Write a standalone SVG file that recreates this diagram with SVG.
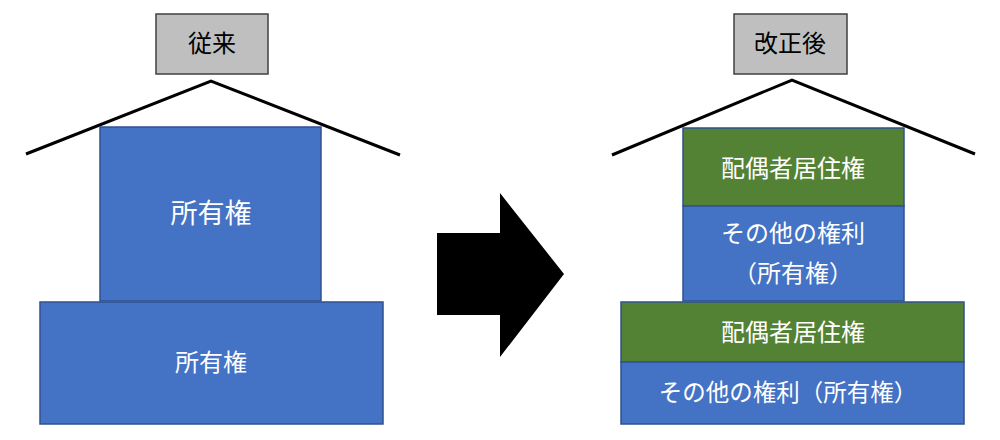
<svg xmlns="http://www.w3.org/2000/svg" width="1000" height="440" viewBox="0 0 1000 440">
<style>
.lbl{fill:#BFBFBF;stroke:#404040;stroke-width:1.5}
.blue{fill:#4472C4;stroke:#2F528F;stroke-width:1.5}
.green{fill:#548235;stroke:#2F528F;stroke-width:1.5}
.roof{fill:none;stroke:#000;stroke-width:3}
.t{font-family:"Liberation Sans","Noto Sans CJK JP",sans-serif;fill:#fff;text-anchor:middle;dominant-baseline:central}
.ts{font-family:"Liberation Serif","Noto Sans CJK JP",serif;fill:#000;text-anchor:middle;dominant-baseline:central;font-size:24px}
</style>
<rect width="1000" height="440" fill="#fff"/>
<g id="roofs">
<polyline class="roof" points="26,154 211,81 400,155"/>
<polyline class="roof" points="612,155 792,80 975,154"/>
</g>
<g id="before-label"><rect class="lbl" x="156" y="14" width="112" height="60"/><text class="ts" x="212" y="44">従来</text></g>
<g id="before-upper"><rect class="blue" x="100" y="127" width="221" height="174"/><text class="t" x="211" y="214" font-size="27">所有権</text></g>
<g id="before-lower"><rect class="blue" x="40" y="302" width="343" height="122"/><text class="t" x="211" y="362" font-size="24">所有権</text></g>
<g id="arrow"><polygon points="437,233 500,233 500,193 564,274 500,357 500,315 437,315" fill="#000"/></g>
<g id="after-label"><rect class="lbl" x="734" y="14" width="113" height="60"/><text class="ts" x="790" y="44">改正後</text></g>
<g id="after-upper-green"><rect class="green" x="683" y="128" width="221" height="78"/><text class="t" x="793" y="168" font-size="24">配偶者居住権</text></g>
<g id="after-upper-blue"><rect class="blue" x="683" y="206" width="221" height="95"/><text class="t" x="793" y="233" font-size="24">その他の権利</text><text class="t" x="793" y="273" font-size="24">（所有権）</text></g>
<g id="after-lower-green"><rect class="green" x="621" y="302" width="343" height="60"/><text class="t" x="793" y="332" font-size="24">配偶者居住権</text></g>
<g id="after-lower-blue"><rect class="blue" x="621" y="362" width="343" height="62"/><text class="t" x="788" y="393" font-size="23.5">その他の権利（所有権）</text></g>
</svg>
